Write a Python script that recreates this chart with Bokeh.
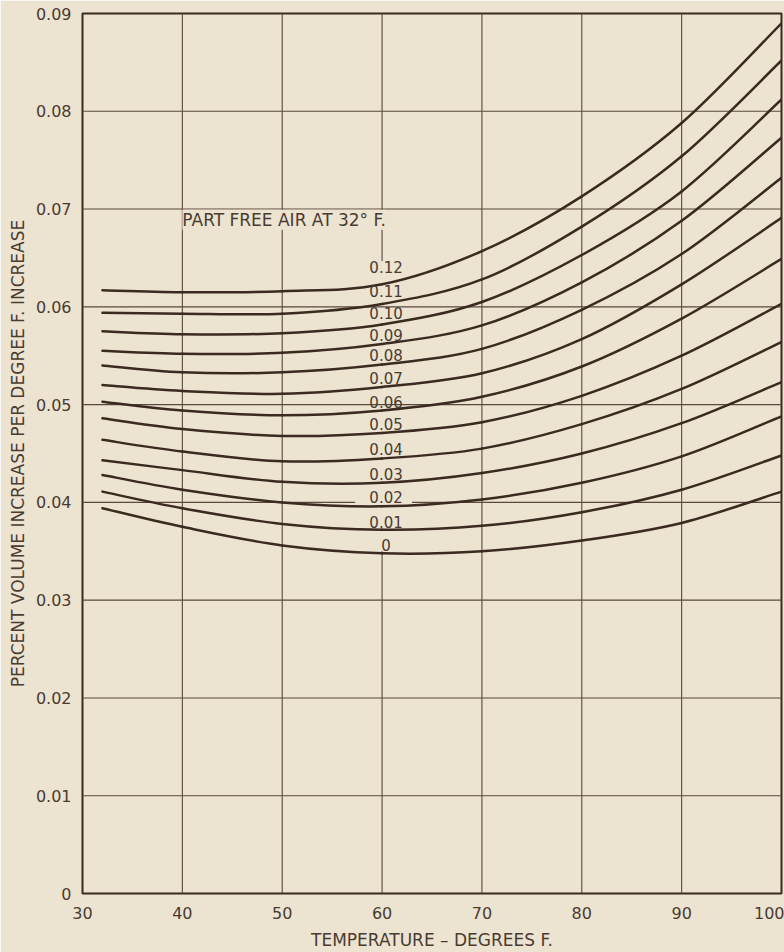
from bokeh.plotting import figure
from bokeh.models import FixedTicker, Range1d, Label, ColumnDataSource
from bokeh.core.properties import value
from bokeh.embed import file_html
from bokeh.resources import INLINE

# Temperature (deg F) at which each curve was read
temps = [32, 40, 50, 60, 70, 80, 90, 100]

# Part free air at 32 deg F, one curve each (top to bottom)
air_labels = ["0.12", "0.11", "0.10", "0.09", "0.08", "0.07", "0.06",
              "0.05", "0.04", "0.03", "0.02", "0.01", "0"]

# Percent volume increase per degree F increase
vol_012 = [0.0617, 0.0615, 0.0616, 0.0623, 0.0657, 0.0713, 0.0788, 0.0890]
vol_011 = [0.0594, 0.0593, 0.0593, 0.0603, 0.0628, 0.0682, 0.0754, 0.0852]
vol_010 = [0.0575, 0.0572, 0.0573, 0.0582, 0.0605, 0.0653, 0.0718, 0.0812]
vol_009 = [0.0555, 0.0552, 0.0553, 0.0562, 0.0581, 0.0625, 0.0688, 0.0773]
vol_008 = [0.0540, 0.0533, 0.0533, 0.0541, 0.0557, 0.0597, 0.0654, 0.0732]
vol_007 = [0.0520, 0.0514, 0.0511, 0.0518, 0.0532, 0.0567, 0.0623, 0.0691]
vol_006 = [0.0503, 0.0494, 0.0489, 0.0494, 0.0508, 0.0539, 0.0588, 0.0649]
vol_005 = [0.0486, 0.0475, 0.0468, 0.0471, 0.0482, 0.0509, 0.0550, 0.0603]
vol_004 = [0.0464, 0.0452, 0.0442, 0.0445, 0.0455, 0.0480, 0.0516, 0.0564]
vol_003 = [0.0443, 0.0433, 0.0421, 0.0420, 0.0430, 0.0450, 0.0481, 0.0523]
vol_002 = [0.0428, 0.0413, 0.0400, 0.0396, 0.0403, 0.0420, 0.0447, 0.0488]
vol_001 = [0.0411, 0.0394, 0.0378, 0.0372, 0.0376, 0.0390, 0.0413, 0.0448]
vol_000 = [0.0394, 0.0375, 0.0356, 0.0348, 0.0350, 0.0361, 0.0379, 0.0411]

curves = [vol_012, vol_011, vol_010, vol_009, vol_008, vol_007, vol_006,
          vol_005, vol_004, vol_003, vol_002, vol_001, vol_000]

x_ticks = [30, 40, 50, 60, 70, 80, 90, 100]
x_tick_labels = ["30", "40", "50", "60", "70", "80", "90", "100"]
y_ticks = [0, 0.01, 0.02, 0.03, 0.04, 0.05, 0.06, 0.07, 0.08, 0.09]
y_tick_labels = ["0", "0.01", "0.02", "0.03", "0.04", "0.05", "0.06",
                 "0.07", "0.08", "0.09"]

PAPER = "#ece3d1"
INK = "#3a2a20"
GRID = "#5a493c"
TEXT = "#4a3b31"
FONT = "DejaVu Sans"

p = figure(width=784, height=952, output_backend="svg", toolbar_location=None,
           x_range=Range1d(30, 100), y_range=Range1d(0, 0.09),
           min_border_left=82, min_border_right=3, min_border_top=13,
           min_border_bottom=55)
p.background_fill_color = PAPER
p.border_fill_color = PAPER
p.outline_line_color = INK
p.outline_line_width = 2
p.xgrid.visible = False
p.ygrid.visible = False

for ax, ticks, labels in ((p.xaxis, x_ticks, x_tick_labels),
                          (p.yaxis, y_ticks, y_tick_labels)):
    ax.ticker = FixedTicker(ticks=ticks)
    ax.major_label_overrides = {t: s for t, s in zip(ticks, labels)}
    ax.axis_line_color = None
    ax.major_tick_line_color = None
    ax.minor_tick_line_color = None
    ax.major_label_text_font = FONT
    ax.major_label_text_font_size = "16px"
    ax.major_label_text_color = TEXT
    ax.axis_label_text_font = FONT
    ax.axis_label_text_font_size = "17px"
    ax.axis_label_text_font_style = "normal"
    ax.axis_label_text_color = TEXT

p.xaxis.axis_label = "TEMPERATURE \u2013 DEGREES F."
p.yaxis.axis_label = "PERCENT VOLUME INCREASE PER DEGREE F. INCREASE"
p.xaxis.major_label_standoff = 7
p.xaxis.axis_label_standoff = 8
p.yaxis.major_label_standoff = 5
p.yaxis.axis_label_standoff = 5

# Hand-ruled grid: the 60 F rule is left open behind the curve labels,
# and the 0.04 rule is broken around the "0.02" label.
inner_x = [t for t in x_ticks[1:-1] if t != 60]
p.segment(x0=inner_x, y0=[0] * len(inner_x), x1=inner_x,
          y1=[0.09] * len(inner_x), line_color=GRID, line_width=1.1)
p.segment(x0=[60, 60], y0=[0, 0.0647], x1=[60, 60], y1=[0.0350, 0.09],
          line_color=GRID, line_width=1.1)
inner_y = [t for t in y_ticks[1:-1] if t != 0.04]
p.segment(x0=[30] * len(inner_y), y0=inner_y, x1=[100] * len(inner_y),
          y1=inner_y, line_color=GRID, line_width=1.1)
p.segment(x0=[30, 63.0], y0=[0.04, 0.04], x1=[57.3, 100], y1=[0.04, 0.04],
          line_color=GRID, line_width=1.1)

# Curves: smooth cubic Bezier pieces passing through every read point
seg = {k: [] for k in ("x0", "y0", "x1", "y1", "cx0", "cy0", "cx1", "cy1")}
for ys in curves:
    pts = list(zip(temps, ys))
    n = len(pts)
    for i in range(n - 1):
        pa = pts[i - 1] if i > 0 else pts[i]
        pb, pc = pts[i], pts[i + 1]
        pd = pts[i + 2] if i + 2 < n else pts[i + 1]
        seg["x0"].append(pb[0]); seg["y0"].append(pb[1])
        seg["x1"].append(pc[0]); seg["y1"].append(pc[1])
        seg["cx0"].append(pb[0] + (pc[0] - pa[0]) / 6)
        seg["cy0"].append(pb[1] + (pc[1] - pa[1]) / 6)
        seg["cx1"].append(pc[0] - (pd[0] - pb[0]) / 6)
        seg["cy1"].append(pc[1] - (pd[1] - pb[1]) / 6)
p.bezier(source=ColumnDataSource(seg), x0="x0", y0="y0", x1="x1", y1="y1",
         cx0="cx0", cy0="cy0", cx1="cx1", cy1="cy1",
         line_color=INK, line_width=2.5, line_cap="round")

# Curve labels sit just above each curve at 60 F
i60 = temps.index(60)
label_lift = [-17, -13, -11, -9, -10, -9, -8, -9, -9, -9, -9, -8, -8]
lab_src = ColumnDataSource(dict(
    x=[temps[i60]] * len(curves),
    y=[c[i60] for c in curves],
    text=air_labels,
    dy=label_lift,
))
p.text(x="x", y="y", text="text", y_offset="dy", x_offset=4,
       source=lab_src, text_align="center", text_baseline="middle",
       text_font=value(FONT), text_font_size="15px", text_color=TEXT)

title = Label(x=40, y=0.0689, text="PART FREE AIR AT 32\u00b0 F.",
              text_align="left", text_baseline="middle", text_font=FONT,
              text_font_size="17px", text_color=TEXT,
              background_fill_color=PAPER)
p.add_layout(title)

open("out.html", "w").write(file_html(p, INLINE))
